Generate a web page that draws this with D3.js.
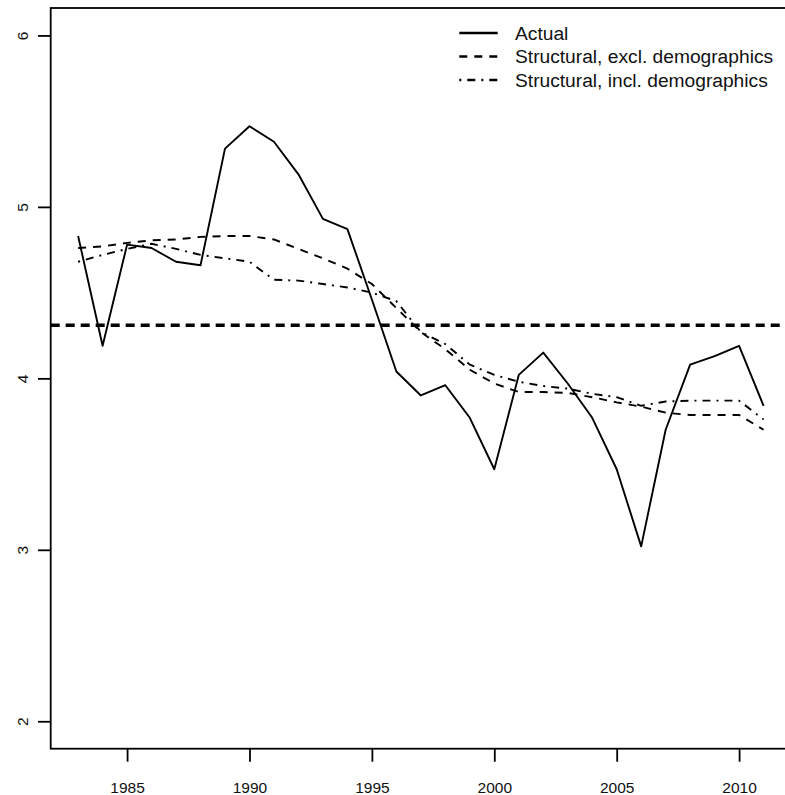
<!DOCTYPE html>
<html>
<head>
<meta charset="utf-8">
<script src="https://cdn.jsdelivr.net/npm/d3@7"></script>
<style>
  html, body { margin: 0; padding: 0; background: #fff; }
  svg { display: block; font-family: "Liberation Sans", Arial, sans-serif; }
  .tick text { font-size: 15.5px; font-family: "Liberation Sans", Arial, sans-serif; fill: #111; }
</style>
</head>
<body>
<svg id="chart" width="785" height="795"></svg>
<script>
const years = [1983,1984,1985,1986,1987,1988,1989,1990,1991,1992,1993,1994,1995,1996,1997,1998,1999,2000,2001,2002,2003,2004,2005,2006,2007,2008,2009,2010,2011];
const actual = [4.83,4.19,4.78,4.76,4.68,4.66,5.34,5.47,5.38,5.19,4.93,4.87,4.46,4.04,3.90,3.96,3.77,3.47,4.02,4.15,3.97,3.77,3.47,3.02,3.70,4.08,4.13,4.19,3.84];
const structExcl = [4.76,4.77,4.79,4.805,4.81,4.825,4.83,4.83,4.81,4.755,4.70,4.64,4.55,4.41,4.27,4.17,4.05,3.97,3.92,3.92,3.915,3.89,3.86,3.835,3.80,3.786,3.786,3.786,3.70];
const structIncl = [4.68,4.72,4.755,4.785,4.755,4.72,4.70,4.68,4.575,4.57,4.55,4.53,4.50,4.45,4.27,4.20,4.08,4.02,3.98,3.955,3.94,3.91,3.89,3.84,3.865,3.87,3.87,3.87,3.76];
const meanLevel = 4.31;
const xTicks = [1985,1990,1995,2000,2005,2010];
const yTicks = [2,3,4,5,6];
const legendLabels = ["Actual","Structural, excl. demographics","Structural, incl. demographics"];

(function () {
const svg = d3.select("#chart");
const pLeft = 50.7, pRight = 791, pTop = 8, pBottom = 748.7;
const x = d3.scaleLinear().domain([1981.88, 2012.12]).range([pLeft, pRight]);
const y = d3.scaleLinear().domain([1.84, 6.16]).range([pBottom, pTop]);

// box
svg.append("rect").attr("x", pLeft).attr("y", pTop)
  .attr("width", pRight - pLeft).attr("height", pBottom - pTop)
  .attr("fill", "none").attr("stroke", "#000").attr("stroke-width", 1.8);

// axes
const xAxis = svg.append("g").attr("transform", `translate(0,${pBottom})`)
  .call(d3.axisBottom(x).tickValues(xTicks).tickFormat(d3.format("d")).tickSize(13).tickPadding(0));
xAxis.attr("font-size", null).attr("font-family", null);
xAxis.select(".domain").remove();
xAxis.selectAll(".tick line").attr("stroke", "#000").attr("stroke-width", 1.8);
xAxis.selectAll(".tick text")
  .attr("dy", null).attr("y", 44);

const yAxis = svg.append("g").attr("transform", `translate(${pLeft},0)`)
  .call(d3.axisLeft(y).tickValues(yTicks).tickFormat(d3.format("d")).tickSize(12.7));
yAxis.attr("font-size", null).attr("font-family", null);
yAxis.select(".domain").remove();
yAxis.selectAll(".tick line").attr("stroke", "#000").attr("stroke-width", 1.8);
yAxis.selectAll(".tick text")
  .attr("x", null).attr("dy", null)
  .attr("text-anchor", "middle")
  .attr("transform", "translate(-28,0) rotate(-90) translate(0,5.5)");

// reference horizontal line
svg.append("line")
  .attr("x1", pLeft).attr("x2", pRight)
  .attr("y1", y(meanLevel)).attr("y2", y(meanLevel))
  .attr("stroke", "#000").attr("stroke-width", 3.4)
  .attr("stroke-dasharray", "9,6");

const line = d3.line().x((d, i) => x(years[i])).y(d => y(d));
const styles = [
  { data: actual, dash: null },
  { data: structExcl, dash: "8,7" },
  { data: structIncl, dash: "2,6,8,6" }
];
styles.forEach(s => {
  svg.append("path").datum(s.data)
    .attr("d", line)
    .attr("fill", "none").attr("stroke", "#000")
    .attr("stroke-width", 1.9)
    .attr("stroke-linejoin", "round")
    .attr("stroke-dasharray", s.dash);
});

// legend
const legendRows = [33, 56.5, 80];
const leg = svg.append("g");
legendLabels.forEach((lab, i) => {
  const ly = legendRows[i];
  leg.append("line").attr("x1", 459.3).attr("x2", 497.7)
    .attr("y1", ly).attr("y2", ly)
    .attr("stroke", "#000").attr("stroke-width", 2.6)
    .attr("stroke-dasharray", styles[i].dash);
  leg.append("text").attr("x", 515).attr("y", ly).attr("dy", "0.35em")
    .attr("font-size", 19.2).attr("fill", "#111").text(lab);
});
})();
</script>
</body>
</html>
